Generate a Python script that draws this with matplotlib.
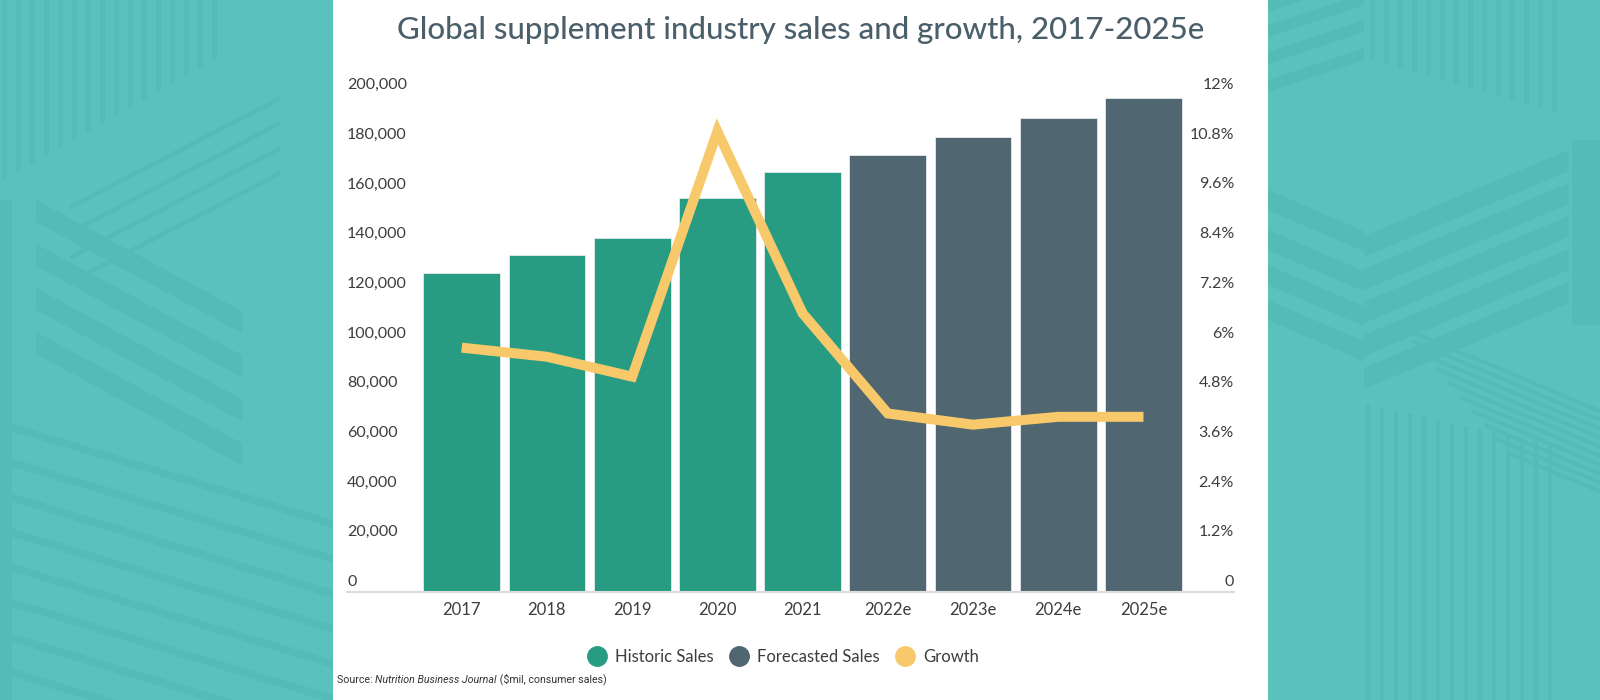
import numpy as np
import matplotlib
matplotlib.use("Agg")
import matplotlib.pyplot as plt
import matplotlib.transforms as mtransforms
from matplotlib.patches import Rectangle, Polygon
from matplotlib.lines import Line2D

# Datos (ventas en $mil, crecimiento en %)
years = ["2017", "2018", "2019", "2020", "2021", "2022e", "2023e", "2024e", "2025e"]
sales = [128500, 135600, 142300, 158400, 168900, 176000, 183100, 190700, 198800]
growth = [5.90, 5.68, 5.20, 11.12, 6.73, 4.31, 4.04, 4.23, 4.23]
historic = [True, True, True, True, True, False, False, False, False]

left_ticks = list(range(0, 200001, 20000))
right_ticks = [0, 1.2, 2.4, 3.6, 4.8, 6, 7.2, 8.4, 9.6, 10.8, 12]

c_hist = "#279C82"
c_fore = "#506670"
c_growth = "#F8C96A"
c_text = "#3d3d3d"
c_title = "#4B5F6B"
teal = "#5AC1BD"
teal_dark = "#54BBB7"

plt.rcParams["font.family"] = ["Lato", "DejaVu Sans"]

fig = plt.figure(figsize=(16, 7), dpi=100)
fig.patch.set_facecolor(teal)

# fondo decorativo
bg = fig.add_axes([0, 0, 1, 1], zorder=-5)
bg.set_xlim(0, 1600)
bg.set_ylim(700, 0)
bg.axis("off")

def band(x0, x1, y0, slope, h):
    return Polygon([(x0, y0), (x1, y0 + slope * (x1 - x0)),
                    (x1, y0 + slope * (x1 - x0) + h), (x0, y0 + h)],
                   closed=True, color=teal_dark, lw=0)

# lado derecho
for y0 in [236, 269, 302, 335, 368]:
    bg.add_patch(band(1364, 1569, y0, -0.42, 21))
for y0 in [190, 230, 265, 300]:
    bg.add_patch(band(1268, 1364, y0, 0.43, 20))
for y0 in [0, 25, 52, 80]:
    bg.add_patch(band(1268, 1364, y0, -0.33, 12))
bg.add_patch(Rectangle((1572, 140), 28, 185, color=teal_dark, lw=0))
for k in range(14):
    bg.add_patch(Rectangle((1370 + k * 14, 0), 5, 60 + k * 4, color=teal_dark, lw=0))
    bg.add_patch(Rectangle((1366 + k * 14, 405 + k * 3), 4, 295, color=teal_dark, lw=0))
for k in range(10):
    bg.add_patch(band(1400 + k * 12, 1600, 325 + k * 14, 0.42, 4))

# lado izquierdo
for y0 in [200, 244, 288, 332]:
    bg.add_patch(band(36, 242, y0, 0.54, 22))
for y0 in [205, 230, 255, 280]:
    bg.add_patch(band(70, 280, y0, -0.52, 5))
for k in range(16):
    bg.add_patch(Rectangle((2 + k * 14, 0), 5, 180 - k * 8, color=teal_dark, lw=0))
bg.add_patch(Rectangle((0, 200), 12, 500, color=teal_dark, lw=0))
for k in range(8):
    bg.add_patch(band(0, 333, 420 + k * 35, 0.3, 8))

# panel blanco
bg.add_patch(Rectangle((333, 0), 935, 700, color="white", lw=0))

# ejes principales
ax = fig.add_axes([347 / 1600, 1 - 592 / 700, (1234 - 347) / 1600, (592 - 95) / 700])
ax.set_facecolor("none")
x = np.arange(len(years))
colors = [c_hist if h else c_fore for h in historic]
ax.bar(x, sales, width=0.9, color=colors, edgecolor="#e4eaec", linewidth=0.6, zorder=2)
ax.set_xlim(-1.346, len(years) - 1 + 1.062)
ax.set_ylim(0, 200000)

for s in ["top", "left", "right"]:
    ax.spines[s].set_visible(False)
ax.spines["bottom"].set_color("#dcdcdc")
ax.spines["bottom"].set_linewidth(1.5)
ax.spines["bottom"].set_zorder(3)
ax.set_xticks(x)
ax.set_xticklabels(years, fontsize=12, color=c_text)
ax.tick_params(axis="x", length=0, pad=7)
ax.set_yticks([])

up = mtransforms.ScaledTranslation(0, 10 / 100, fig.dpi_scale_trans)
for v in left_ticks:
    ax.text(0, v, f"{v:,}", transform=ax.get_yaxis_transform() + up,
            ha="left", va="center", fontsize=11.5, color=c_text)

ax2 = ax.twinx()
ax2.set_ylim(0, 12)
ax2.set_yticks([])
for s in ["top", "left", "right", "bottom"]:
    ax2.spines[s].set_visible(False)
ax2.plot(x, growth, color=c_growth, lw=7.2, solid_joinstyle="miter",
         solid_capstyle="butt", zorder=4)
for v in right_ticks:
    lab = "0" if v == 0 else f"{v:g}%"
    ax2.text(1, v, lab, transform=ax2.get_yaxis_transform() + up,
             ha="right", va="center", fontsize=11.5, color=c_text)

# título
fig.text(800.5 / 1600, 1 - 30 / 700, "Global supplement industry sales and growth, 2017-2025e",
         ha="center", va="center", fontsize=22.5, color=c_title, fontweight="medium")

# leyenda
handles = [Line2D([], [], marker="o", ls="", ms=14, color=c) for c in [c_hist, c_fore, c_growth]]
fig.legend(handles, ["Historic Sales", "Forecasted Sales", "Growth"], loc="center",
           bbox_to_anchor=(784 / 1600, 1 - 657 / 700), ncol=3, frameon=False,
           fontsize=12, handletextpad=0.6, columnspacing=1.0, handlelength=1,
           labelcolor=c_text)

# fuente
t1 = fig.text(337 / 1600, 1 - 683 / 700, "Source: ", fontsize=7.7, family="Roboto",
              color="#333333", va="baseline")
t2 = ax.annotate("Nutrition Business Journal", xy=(1, 0), xycoords=t1, fontsize=7.7,
                 family="Roboto", style="italic", color="#333333", va="bottom",
                 annotation_clip=False)
ax.annotate(" ($mil, consumer sales)", xy=(1, 0), xycoords=t2, fontsize=7.7,
            family="Roboto", color="#333333", va="bottom", annotation_clip=False)

fig.savefig("out.png", dpi=100, facecolor=fig.get_facecolor())
